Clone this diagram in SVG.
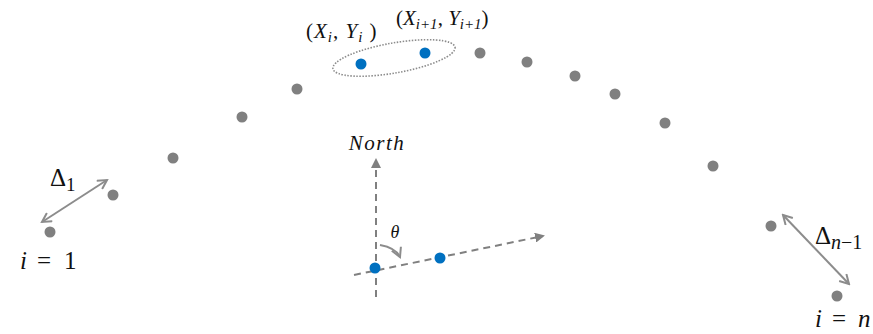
<svg xmlns="http://www.w3.org/2000/svg" width="873" height="334" viewBox="0 0 873 334">
<style>
.g{fill:#808080}
.b{fill:#0070c0}
.t{font-family:"Liberation Serif","DejaVu Serif",serif;fill:#111}
.i{font-style:italic}
.dash{stroke:#808080;stroke-width:2;stroke-dasharray:7,5;fill:none}
.ar{stroke:#8c8c8c;stroke-width:2;fill:none}
</style>
<defs>
<marker id="tri" markerWidth="10" markerHeight="10" refX="8" refY="5" orient="auto" markerUnits="userSpaceOnUse"><path d="M0,0 L10,5 L0,10 z" fill="#808080"/></marker>
<marker id="open" markerWidth="12" markerHeight="12" refX="10" refY="6" orient="auto-start-reverse" markerUnits="userSpaceOnUse"><path d="M1,1 L10,6 L1,11" fill="none" stroke="#8c8c8c" stroke-width="2"/></marker>
</defs>
<g id="points">
<circle class="g" cx="50" cy="232" r="5.5"/>
<circle class="g" cx="113" cy="195" r="5.5"/>
<circle class="g" cx="173" cy="158" r="5.5"/>
<circle class="g" cx="242" cy="117" r="5.5"/>
<circle class="g" cx="297" cy="89" r="5.5"/>
<circle class="b" cx="361" cy="64" r="5.5"/>
<circle class="b" cx="425" cy="53" r="5.5"/>
<circle class="g" cx="480" cy="53" r="5.5"/>
<circle class="g" cx="527" cy="62" r="5.5"/>
<circle class="g" cx="575" cy="76" r="5.5"/>
<circle class="g" cx="615" cy="94" r="5.5"/>
<circle class="g" cx="665" cy="123" r="5.5"/>
<circle class="g" cx="713" cy="166" r="5.5"/>
<circle class="g" cx="771" cy="226" r="5.5"/>
<circle class="g" cx="837" cy="296" r="5.5"/>
</g>
<g id="pair">
<ellipse cx="394" cy="58" rx="62" ry="15" transform="rotate(-10 394 58)" fill="none" stroke="#8c8c8c" stroke-width="1.6" stroke-dasharray="1.5,1.5"/>
<text class="t" x="306" y="38" font-size="21" letter-spacing="1">(<tspan class="i">X</tspan><tspan class="i" font-size="15" dy="4">i</tspan><tspan dy="-4">, </tspan><tspan class="i">Y</tspan><tspan class="i" font-size="15" dy="4">i</tspan><tspan dy="-4">  )</tspan></text>
<text class="t" x="396" y="25" font-size="21">(<tspan class="i">X</tspan><tspan class="i" font-size="15" dy="4">i+1</tspan><tspan dy="-4">, </tspan><tspan class="i">Y</tspan><tspan class="i" font-size="15" dy="4">i+1</tspan><tspan dy="-4">)</tspan></text>
</g>
<g id="connectors">
<line class="dash" x1="376" y1="297" x2="376" y2="160" marker-end="url(#tri)"/>
<line class="dash" x1="354" y1="275" x2="543" y2="236" marker-end="url(#tri)"/>
<path class="ar" d="M380,245 Q396,248 400,257" marker-end="url(#open)"/>
<line class="ar" x1="42" y1="222" x2="107" y2="180" marker-start="url(#open)" marker-end="url(#open)"/>
<line class="ar" x1="783" y1="215" x2="849" y2="284" marker-start="url(#open)" marker-end="url(#open)"/>
</g>
<g id="compass">
<circle class="b" cx="375" cy="268" r="5.5"/>
<circle class="b" cx="440" cy="258" r="5.5"/>
<text class="t i" x="377" y="150" font-size="21" text-anchor="middle" letter-spacing="1.5">North</text>
<text class="t i" x="395" y="238" font-size="18" text-anchor="middle">θ</text>
</g>
<g id="labels">
<text class="t" x="50" y="186" font-size="25">Δ<tspan font-size="19" dy="5">1</tspan></text>
<text class="t" x="20" y="269" font-size="25"><tspan class="i">i</tspan><tspan x="37">=</tspan><tspan x="64">1</tspan></text>
<text class="t" x="815" y="244" font-size="25">Δ<tspan class="i" font-size="20" dy="5">n</tspan><tspan font-size="20">−1</tspan></text>
<text class="t" x="815" y="327" font-size="25"><tspan class="i">i</tspan><tspan x="832">=</tspan><tspan class="i" x="858">n</tspan></text>
</g>
</svg>
